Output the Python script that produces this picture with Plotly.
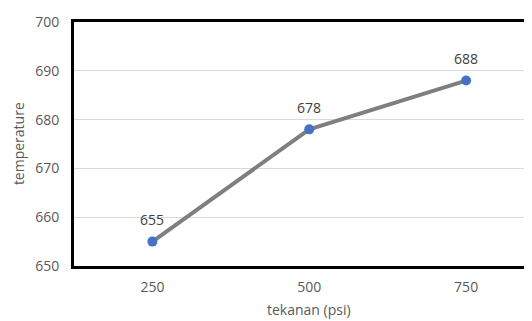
import plotly.graph_objects as go

categories = ["250", "500", "750"]
temperature = [655, 678, 688]
y_ticks = [650, 660, 670, 680, 690, 700]

FONT = "Open Sans, sans-serif"
xs = list(range(len(categories)))

fig = go.Figure()
fig.add_trace(go.Scatter(
    x=xs, y=temperature, mode="lines+markers",
    line=dict(color="#7f7f7f", width=4),
    marker=dict(color="#4472c4", size=10),
    cliponaxis=False, showlegend=False,
))
for xv, yv in zip(xs, temperature):
    fig.add_annotation(x=xv, y=yv, text=str(yv), showarrow=False, yshift=22,
                       yanchor="middle",
                       font=dict(family=FONT, size=14, color="#404040"))

# axis titles
fig.add_annotation(x=xs[1], y=0, xref="x", yref="paper", yshift=-43, yanchor="middle",
                   text="tekanan (psi)",
                   showarrow=False, font=dict(family=FONT, size=14, color="#595959"))
fig.add_annotation(x=-0.122, y=0.5, xref="paper", yref="paper", xanchor="center",
                   yanchor="middle", text="temperature",
                   textangle=-90, showarrow=False, font=dict(family=FONT, size=14, color="#595959"))

fig.update_layout(
    width=524, height=313,
    margin=dict(l=66, r=0, t=14, b=55),
    paper_bgcolor="white", plot_bgcolor="white",
    font=dict(family=FONT, size=14, color="#595959"),
)
fig.update_xaxes(
    tickmode="array", tickvals=xs, ticktext=categories,
    range=[-0.5, 2.42], showgrid=False, zeroline=False, automargin=False,
    showline=True, linecolor="black", linewidth=3, mirror=True,
    ticks="outside", ticklen=6, tickcolor="rgba(0,0,0,0)",
    tickfont=dict(size=14, color="#595959"),
)
fig.update_yaxes(
    range=[650, 700], tickvals=y_ticks, showgrid=True, gridcolor="#d9d9d9", gridwidth=1,
    zeroline=False, showline=True, linecolor="black", linewidth=3, mirror=False, automargin=False,
    ticks="outside", ticklen=9, tickcolor="rgba(0,0,0,0)",
    tickfont=dict(size=14, color="#595959"),
)

fig.write_html("out.html")
